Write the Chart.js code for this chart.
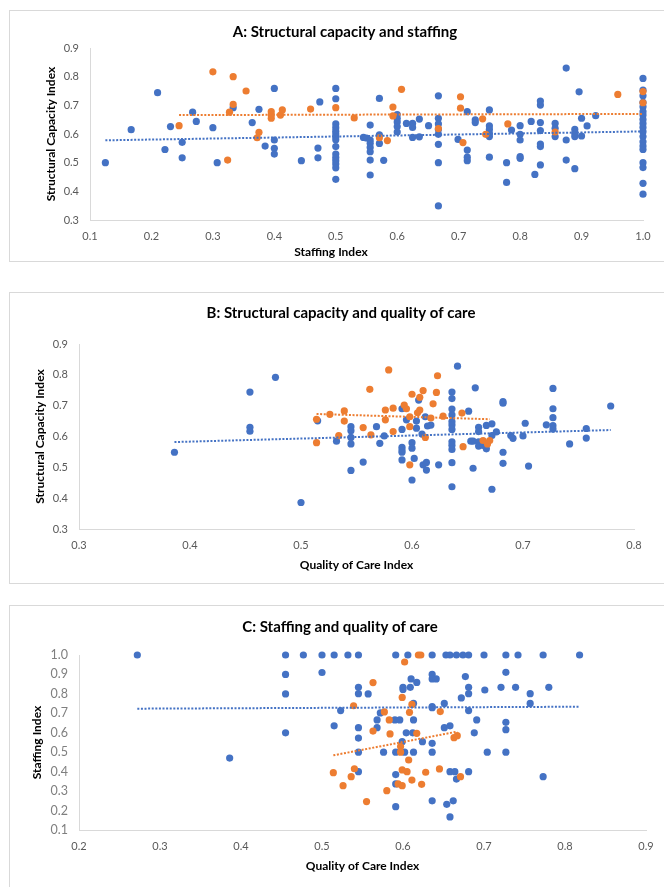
<!DOCTYPE html>
<html>
<head>
<meta charset="utf-8">
<script src="https://cdn.jsdelivr.net/npm/chart.js@4.4.1/dist/chart.umd.min.js"></script>
<style>
  html, body { margin: 0; padding: 0; background: #fff; overflow: hidden; }
  body { width: 664px; height: 887px; position: relative; }
  .panel { position: absolute; left: 9px; width: 660px; border: 1px solid #d9d9d9; box-sizing: border-box; background: #fff; }
  .panel canvas { display: block; }
</style>
</head>
<body>
<div class="panel" style="top:10px;height:252px"><canvas id="chartA"></canvas></div>
<div class="panel" style="top:292px;height:292px"><canvas id="chartB"></canvas></div>
<div class="panel" style="top:605px;height:290px"><canvas id="chartC"></canvas></div>
<script>
// A: staffing (x) vs structural capacity (y)
const aBlue = [[0.125,0.50],[0.167,0.615],[0.21,0.744],[0.222,0.546],[0.231,0.626],[0.25,0.571],[0.25,0.517],[0.267,0.676],[0.273,0.644],[0.3,0.622],[0.307,0.50],[0.333,0.692],[0.364,0.640],[0.375,0.686],[0.385,0.558],[0.4,0.759],[0.4,0.579],[0.4,0.55],[0.4,0.53],[0.444,0.507],[0.471,0.551],[0.471,0.517],[0.474,0.712],
  [0.5,0.759],[0.5,0.723],[0.5,0.635],[0.5,0.622],[0.5,0.61],[0.5,0.60],[0.5,0.59],[0.5,0.58],[0.5,0.556],[0.5,0.53],[0.5,0.518],[0.5,0.507],[0.5,0.495],[0.5,0.482],[0.5,0.442],
  [0.545,0.588],[0.55,0.586],[0.556,0.631],[0.556,0.579],[0.556,0.568],[0.556,0.553],[0.556,0.538],[0.556,0.509],[0.556,0.457],
  [0.571,0.724],[0.571,0.597],[0.571,0.567],[0.578,0.508],[0.6,0.668],[0.6,0.655],[0.6,0.642],[0.6,0.626],[0.6,0.607],
  [0.615,0.637],[0.625,0.637],[0.625,0.623],[0.625,0.588],[0.636,0.652],[0.636,0.59],[0.651,0.629],
  [0.667,0.733],[0.667,0.655],[0.667,0.635],[0.667,0.616],[0.667,0.599],[0.667,0.564],[0.667,0.5],[0.667,0.349],
  [0.699,0.581],[0.714,0.678],[0.714,0.544],[0.714,0.519],[0.714,0.507],[0.727,0.649],[0.727,0.64],
  [0.75,0.684],[0.75,0.628],[0.75,0.616],[0.75,0.602],[0.75,0.591],[0.75,0.519],
  [0.778,0.5],[0.778,0.431],[0.786,0.614],[0.8,0.629],[0.8,0.599],[0.8,0.579],[0.8,0.521],[0.8,0.515],
  [0.818,0.644],[0.824,0.459],[0.833,0.715],[0.833,0.701],[0.833,0.64],[0.833,0.612],[0.833,0.565],[0.833,0.556],[0.833,0.492],
  [0.857,0.637],[0.857,0.62],[0.857,0.591],[0.875,0.83],[0.875,0.579],[0.875,0.509],
  [0.889,0.616],[0.889,0.602],[0.889,0.591],[0.889,0.479],[0.896,0.747],[0.9,0.593],[0.9,0.655],[0.909,0.628],[0.923,0.664],
  [1.0,0.794],[1.0,0.753],[1.0,0.733],[1.0,0.71],[1.0,0.695],[1.0,0.678],[1.0,0.666],[1.0,0.651],[1.0,0.637],[1.0,0.623],[1.0,0.608],[1.0,0.591],[1.0,0.573],[1.0,0.558],[1.0,0.546],[1.0,0.5],[1.0,0.483],[1.0,0.428],[1.0,0.39]];
const aOrange = [[0.245,0.629],[0.3,0.817],[0.333,0.8],[0.333,0.703],[0.327,0.676],[0.324,0.509],[0.354,0.75],[0.375,0.606],[0.372,0.587],[0.395,0.678],[0.395,0.666],[0.395,0.655],[0.41,0.666],[0.413,0.684],[0.459,0.687],[0.5,0.692],[0.53,0.656],[0.571,0.587],[0.584,0.577],[0.593,0.694],[0.593,0.663],[0.607,0.756],[0.667,0.619],[0.703,0.73],[0.703,0.69],[0.707,0.57],[0.739,0.653],[0.744,0.599],[0.78,0.635],[0.857,0.607],[0.959,0.738],[1.0,0.748],[1.0,0.709]];
const aBlueTrend = [[0.125,0.578],[1.0,0.609]];
const aOrangeTrend = [[0.245,0.666],[1.0,0.670]];
const aXTicks = [0.1,0.2,0.3,0.4,0.5,0.6,0.7,0.8,0.9,1.0];
const aYTicks = [0.3,0.4,0.5,0.6,0.7,0.8,0.9];

// B: quality of care (x) vs structural capacity (y)
const bBlue = [[0.386,0.549],[0.454,0.744],[0.454,0.63],[0.454,0.617],[0.477,0.792],[0.5,0.386],[0.515,0.651],[0.532,0.585],[0.545,0.632],[0.545,0.619],[0.545,0.597],[0.545,0.576],[0.545,0.49],[0.556,0.517],[0.568,0.632],[0.571,0.578],[0.575,0.602],
  [0.591,0.69],[0.591,0.623],[0.591,0.565],[0.591,0.556],[0.591,0.549],[0.591,0.524],[0.595,0.654],[0.6,0.58],[0.6,0.562],[0.6,0.459],[0.602,0.529],[0.604,0.65],[0.604,0.627],[0.606,0.718],[0.609,0.608],[0.61,0.508],[0.612,0.664],[0.613,0.516],[0.613,0.491],[0.614,0.634],[0.617,0.637],[0.624,0.508],
  [0.636,0.744],[0.636,0.723],[0.636,0.689],[0.636,0.67],[0.636,0.648],[0.636,0.637],[0.636,0.623],[0.636,0.583],[0.636,0.572],[0.636,0.558],[0.636,0.515],[0.636,0.437],
  [0.641,0.828],[0.651,0.682],[0.653,0.585],[0.655,0.585],[0.655,0.497],[0.657,0.758],[0.66,0.63],[0.66,0.616],[0.66,0.583],[0.66,0.569],[0.664,0.571],[0.667,0.56],[0.667,0.636],[0.672,0.641],[0.672,0.603],[0.672,0.429],[0.676,0.615],
  [0.682,0.713],[0.682,0.708],[0.682,0.549],[0.682,0.513],[0.689,0.603],[0.691,0.594],[0.7,0.602],[0.702,0.643],[0.705,0.504],[0.721,0.638],[0.727,0.756],[0.727,0.69],[0.727,0.661],[0.727,0.635],[0.727,0.624],[0.742,0.576],[0.757,0.626],[0.757,0.595],[0.779,0.699]];
const bOrange = [[0.514,0.656],[0.514,0.58],[0.526,0.672],[0.539,0.683],[0.539,0.65],[0.534,0.603],[0.556,0.629],[0.562,0.753],[0.563,0.605],[0.576,0.686],[0.576,0.654],[0.579,0.816],[0.583,0.692],[0.583,0.616],[0.593,0.702],[0.595,0.69],[0.598,0.664],[0.598,0.632],[0.598,0.508],[0.6,0.737],[0.605,0.677],[0.607,0.727],[0.607,0.686],[0.61,0.749],[0.612,0.597],[0.617,0.66],[0.619,0.706],[0.622,0.743],[0.623,0.797],[0.628,0.666],[0.645,0.676],[0.646,0.567],[0.664,0.587],[0.668,0.576],[0.67,0.587]];
const bBlueTrend = [[0.386,0.582],[0.779,0.621]];
const bOrangeTrend = [[0.514,0.673],[0.67,0.656]];
const bXTicks = [0.3,0.4,0.5,0.6,0.7,0.8];
const bYTicks = [0.3,0.4,0.5,0.6,0.7,0.8,0.9];

// C: quality of care (x) vs staffing (y)
const cBlue = [[0.272,1.0],[0.386,0.47],[0.455,1.0],[0.455,0.9],[0.455,0.8],[0.455,0.6],[0.477,1.0],[0.5,1.0],[0.5,0.91],[0.515,1.0],[0.532,1.0],[0.545,1.0],[0.591,1.0],[0.606,1.0],[0.636,1.0],[0.653,1.0],[0.658,1.0],[0.666,1.0],[0.674,1.0],[0.681,1.0],[0.7,1.0],[0.727,1.0],[0.742,1.0],[0.773,1.0],[0.818,1.0],
  [0.515,0.636],[0.523,0.714],[0.545,0.834],[0.545,0.801],[0.545,0.626],[0.545,0.573],[0.545,0.5],[0.545,0.4],[0.557,0.8],[0.568,0.666],[0.568,0.626],[0.572,0.702],[0.576,0.5],[0.59,0.666],[0.596,0.666],[0.591,0.5],[0.591,0.385],[0.591,0.337],[0.591,0.22],[0.599,0.554],[0.6,0.834],[0.6,0.823],[0.602,0.5],[0.604,0.6],[0.609,0.834],[0.61,0.877],[0.613,0.751],[0.613,0.666],[0.613,0.5],[0.612,0.6],[0.617,0.859],[0.624,0.554],
  [0.636,0.9],[0.636,0.877],[0.636,0.734],[0.636,0.729],[0.636,0.546],[0.636,0.5],[0.636,0.25],[0.641,0.877],[0.651,0.751],[0.651,0.626],[0.654,0.232],[0.658,0.636],[0.658,0.4],[0.658,0.167],[0.662,0.25],[0.664,0.4],[0.666,0.362],[0.672,0.779],[0.677,0.889],
  [0.681,0.834],[0.681,0.801],[0.681,0.714],[0.681,0.4],[0.688,0.6],[0.691,0.666],[0.701,0.82],[0.704,0.5],[0.721,0.834],[0.727,0.911],[0.727,0.654],[0.727,0.616],[0.727,0.5],[0.739,0.834],[0.757,0.801],[0.757,0.751],[0.773,0.374],[0.78,0.834]];
const cOrange = [[0.514,0.395],[0.526,0.328],[0.536,0.374],[0.539,0.739],[0.54,0.415],[0.555,0.246],[0.563,0.858],[0.563,0.609],[0.577,0.707],[0.58,0.302],[0.583,0.666],[0.584,0.594],[0.594,0.337],[0.597,0.529],[0.597,0.5],[0.599,0.782],[0.599,0.409],[0.599,0.328],[0.602,0.964],[0.605,0.4],[0.607,0.46],[0.608,0.705],[0.611,0.746],[0.611,0.357],[0.617,0.597],[0.619,1.0],[0.622,1.0],[0.623,0.335],[0.628,0.397],[0.645,0.414],[0.646,0.709],[0.663,0.575],[0.667,0.585],[0.671,0.374]];
const cBlueTrend = [[0.272,0.724],[0.818,0.734]];
const cOrangeTrend = [[0.514,0.484],[0.667,0.606]];
const cXTicks = [0.2,0.3,0.4,0.5,0.6,0.7,0.8,0.9];
const cYTicks = [0.1,0.2,0.3,0.4,0.5,0.6,0.7,0.8,0.9,1.0];

const BLUE = '#4472C4';
const ORANGE = '#ED7D31';
const FONT = "Lato, 'Open Sans', sans-serif";

// draws panel titles (and any free-placed label) at fixed spots
const panelText = {
  id: 'panelText',
  afterDraw(chart, args, opts) {
    const ctx = chart.ctx;
    ctx.save();
    ctx.textAlign = 'center';
    ctx.textBaseline = 'middle';
    (opts.items || []).forEach(t => {
      ctx.font = t.font;
      ctx.fillStyle = '#000';
      ctx.fillText(t.text, t.x, t.y);
    });
    ctx.restore();
  }
};

const toXY = arr => arr.map(p => ({x: p[0], y: p[1]}));

function makePanel(id, g) {
  const W = g.w, H = g.h;
  new Chart(document.getElementById(id), {
    type: 'scatter',
    data: {
      datasets: [
        {type: 'line', data: toXY(g.orangeTrend), borderColor: ORANGE, borderWidth: 2, borderDash: [2, 1.6], pointRadius: 0, fill: false},
        {type: 'line', data: toXY(g.blueTrend), borderColor: BLUE, borderWidth: 2, borderDash: [2, 1.6], pointRadius: 0, fill: false},
        {data: toXY(g.orange), backgroundColor: ORANGE, borderWidth: 0, pointRadius: 3.6, pointHoverRadius: 3.6},
        {data: toXY(g.blue), backgroundColor: BLUE, borderWidth: 0, pointRadius: 3.6, pointHoverRadius: 3.6}
      ]
    },
    options: {
      responsive: true,
      maintainAspectRatio: false,
      animation: false,
      clip: false,
      layout: {padding: {left: 0, top: g.top, right: W - g.right, bottom: 0}},
      plugins: {
        legend: {display: false},
        tooltip: {enabled: false},
        panelText: {items: g.texts}
      },
      scales: {
        x: {
          type: 'linear',
          min: g.xTicks[0],
          max: g.xTicks[g.xTicks.length - 1],
          afterBuildTicks: s => { s.ticks = g.xTicks.map(v => ({value: v})); },
          afterFit: s => { s.height = H - g.bottom; },
          grid: {display: false, drawTicks: false},
          border: {display: true, color: '#d9d9d9', width: 1},
          ticks: {padding: 10, color: '#595959', font: {family: FONT, size: 11}, callback: v => v.toFixed(1)},
          title: {display: !!g.xTitle, text: g.xTitle, color: '#000', font: {family: FONT, size: 12, weight: 'bold'}, padding: {top: 0, bottom: H - g.xTitleY - 7.2}}
        },
        y: {
          type: 'linear',
          min: g.yTicks[0],
          max: g.yTicks[g.yTicks.length - 1],
          afterBuildTicks: s => { s.ticks = g.yTicks.map(v => ({value: v})); },
          afterFit: s => { s.width = g.left; },
          grid: {display: false, drawTicks: false},
          border: {display: true, color: '#d9d9d9', width: 1},
          ticks: {padding: 11, color: g.yTickColor || '#595959', font: {family: FONT, size: g.yTickSize || 11}, callback: v => v.toFixed(1)},
          title: {display: true, text: g.yTitle, color: '#000', font: {family: FONT, size: 12, weight: 'bold'}, padding: {top: g.yTitleX - 7.2, bottom: 0}}
        }
      }
    },
    plugins: [panelText]
  });
}

const TITLE_FONT = "bold 15px " + FONT;
const AXIS_FONT = "bold 12px " + FONT;

makePanel('chartA', {
  w: 658, h: 250, left: 80, right: 633, top: 37, bottom: 209,
  blue: aBlue, orange: aOrange, blueTrend: aBlueTrend, orangeTrend: aOrangeTrend,
  xTicks: aXTicks, yTicks: aYTicks,
  xTitle: '', yTitle: 'Structural Capacity Index', yTitleX: 41,
  texts: [
    {text: 'A: Structural capacity and staffing', x: 335, y: 21, font: TITLE_FONT},
    {text: 'Staffing Index', x: 321, y: 241, font: AXIS_FONT}
  ]
});

makePanel('chartB', {
  w: 658, h: 290, left: 69, right: 624, top: 51, bottom: 236,
  blue: bBlue, orange: bOrange, blueTrend: bBlueTrend, orangeTrend: bOrangeTrend,
  xTicks: bXTicks, yTicks: bYTicks,
  xTitle: 'Quality of Care Index', xTitleY: 272, yTitle: 'Structural Capacity Index', yTitleX: 30,
  texts: [
    {text: 'B: Structural capacity and quality of care', x: 331, y: 20, font: TITLE_FONT}
  ]
});

makePanel('chartC', {
  w: 658, h: 288, left: 69, right: 636, top: 49, bottom: 224,
  blue: cBlue, orange: cOrange, blueTrend: cBlueTrend, orangeTrend: cOrangeTrend,
  xTicks: cXTicks, yTicks: cYTicks,
  xTitle: 'Quality of Care Index', xTitleY: 260, yTitle: 'Staffing Index', yTitleX: 27,
  yTickSize: 12.5, yTickColor: '#7f7f7f',
  texts: [
    {text: 'C: Staffing and quality of care', x: 330, y: 21, font: TITLE_FONT}
  ]
});
</script>
</body>
</html>
